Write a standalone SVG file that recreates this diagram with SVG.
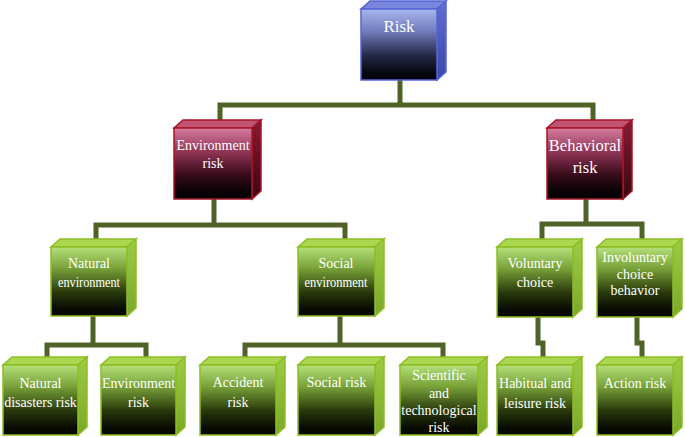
<svg xmlns="http://www.w3.org/2000/svg" width="685" height="437" viewBox="0 0 685 437">
<defs>
<linearGradient id="gBlue" x1="0" y1="0" x2="0" y2="1"><stop offset="0" stop-color="#a9b5ec"/><stop offset="0.3" stop-color="#7480c0"/><stop offset="0.65" stop-color="#262a48"/><stop offset="0.9" stop-color="#06070e"/></linearGradient>
<linearGradient id="gBlueS" x1="0" y1="0" x2="0" y2="1"><stop offset="0" stop-color="#5f6ed0"/><stop offset="1" stop-color="#3a46a8"/></linearGradient>
<linearGradient id="gRed" x1="0" y1="0" x2="0" y2="1"><stop offset="0" stop-color="#d47d9e"/><stop offset="0.3" stop-color="#9a3a5c"/><stop offset="0.65" stop-color="#3a0c1c"/><stop offset="0.9" stop-color="#080204"/></linearGradient>
<linearGradient id="gRedS" x1="0" y1="0" x2="0" y2="1"><stop offset="0" stop-color="#8a1a34"/><stop offset="1" stop-color="#3a0610"/></linearGradient>
<linearGradient id="gGreen" x1="0" y1="0" x2="0" y2="1"><stop offset="0" stop-color="#b4e07a"/><stop offset="0.3" stop-color="#7aa43a"/><stop offset="0.65" stop-color="#2a3a0c"/><stop offset="0.9" stop-color="#080a02"/></linearGradient>
<linearGradient id="gGreenS" x1="0" y1="0" x2="0" y2="1"><stop offset="0" stop-color="#9ccc44"/><stop offset="1" stop-color="#7aa82a"/></linearGradient>
</defs>
<style>
.con{fill:none;stroke:#4f6228;stroke-width:5;stroke-linejoin:miter}
.fb{fill:url(#gBlue);stroke:#5566d6;stroke-width:1.5}
.tb{fill:#7886dc;stroke:#5566d6;stroke-width:1.5}
.sb{fill:url(#gBlueS);stroke:#5566d6;stroke-width:1.5}
.fr{fill:url(#gRed);stroke:#a81428;stroke-width:1.5}
.tr{fill:#c05475;stroke:#a81428;stroke-width:1.5}
.sr{fill:url(#gRedS);stroke:#a81428;stroke-width:1.5}
.fg{fill:url(#gGreen);stroke:#8fbc24;stroke-width:1.5}
.tg{fill:#a9d850;stroke:#8fbc24;stroke-width:1.5}
.sg{fill:url(#gGreenS);stroke:#8fbc24;stroke-width:1.5}
text{font-family:"Liberation Serif","Times New Roman",serif;fill:#ffffff;text-anchor:middle;font-size:14px}
</style>
<g id="connectors">
<path class="con" d="M400 80 V105"/>
<path class="con" d="M220 121 V105 H593 V121"/>
<path class="con" d="M214 199 V225"/>
<path class="con" d="M96 240 V225 H345 V240"/>
<path class="con" d="M586 199 V224"/>
<path class="con" d="M542 240 V224 H642 V240"/>
<path class="con" d="M93 316 V345"/>
<path class="con" d="M47 358 V345 H146 V358"/>
<path class="con" d="M340 316 V345"/>
<path class="con" d="M245 358 V345 H443 V358"/>
<path class="con" d="M538 317 V343 H543 V358"/>
<path class="con" d="M637 317 V343 H642 V358"/>
</g>
<g id="risk">
<polygon class="tb" points="361,9 370,1 446,1 437,9"/>
<polygon class="sb" points="437,9 446,1 446,72 437,80"/>
<rect class="fb" x="361" y="9" width="76" height="71"/>
<text x="399" y="32" style="font-size:17px">Risk</text>
</g>
<g id="environment-risk">
<polygon class="tr" points="174,128 183,120 261,120 252,128"/>
<polygon class="sr" points="252,128 261,120 261,191 252,199"/>
<rect class="fr" x="174" y="128" width="78" height="71"/>
<text x="213" y="150">Environment</text>
<text x="213" y="168">risk</text>
</g>
<g id="behavioral-risk">
<polygon class="tr" points="547,128 556,120 632,120 623,128"/>
<polygon class="sr" points="623,128 632,120 632,191 623,199"/>
<rect class="fr" x="547" y="128" width="76" height="71"/>
<text x="585" y="151" style="font-size:16.5px">Behavioral</text>
<text x="585" y="173" style="font-size:16.5px">risk</text>
</g>
<g id="natural-environment">
<polygon class="tg" points="51,247 60,239 136,239 127,247"/>
<polygon class="sg" points="127,247 136,239 136,308 127,316"/>
<rect class="fg" x="51" y="247" width="76" height="69"/>
<text x="89" y="268">Natural</text>
<text x="89" y="287" textLength="62" lengthAdjust="spacingAndGlyphs">environment</text>
</g>
<g id="social-environment">
<polygon class="tg" points="298,247 307,239 384,239 375,247"/>
<polygon class="sg" points="375,247 384,239 384,308 375,316"/>
<rect class="fg" x="298" y="247" width="77" height="69"/>
<text x="336" y="268">Social</text>
<text x="336" y="287" textLength="63" lengthAdjust="spacingAndGlyphs">environment</text>
</g>
<g id="voluntary-choice">
<polygon class="tg" points="497,247 506,239 582,239 573,247"/>
<polygon class="sg" points="573,247 582,239 582,309 573,317"/>
<rect class="fg" x="497" y="247" width="76" height="70"/>
<text x="535" y="268">Voluntary</text>
<text x="535" y="287">choice</text>
</g>
<g id="involuntary-choice-behavior">
<polygon class="tg" points="597,247 606,239 682,239 673,247"/>
<polygon class="sg" points="673,247 682,239 682,309 673,317"/>
<rect class="fg" x="597" y="247" width="76" height="70"/>
<text x="635" y="262">Involuntary</text>
<text x="635" y="279">choice</text>
<text x="635" y="295">behavior</text>
</g>
<g id="natural-disasters-risk">
<polygon class="tg" points="3,365 12,357 87,357 78,365"/>
<polygon class="sg" points="78,365 87,357 87,427 78,435"/>
<rect class="fg" x="3" y="365" width="75" height="70"/>
<text x="40.5" y="388">Natural</text>
<text x="40.5" y="407">disasters risk</text>
</g>
<g id="environment-risk-2">
<polygon class="tg" points="101,365 110,357 185,357 176,365"/>
<polygon class="sg" points="176,365 185,357 185,427 176,435"/>
<rect class="fg" x="101" y="365" width="75" height="70"/>
<text x="138.5" y="388">Environment</text>
<text x="138.5" y="407">risk</text>
</g>
<g id="accident-risk">
<polygon class="tg" points="200,365 209,357 285,357 276,365"/>
<polygon class="sg" points="276,365 285,357 285,427 276,435"/>
<rect class="fg" x="200" y="365" width="76" height="70"/>
<text x="238" y="387">Accident</text>
<text x="238" y="407">risk</text>
</g>
<g id="social-risk">
<polygon class="tg" points="298,365 307,357 384,357 375,365"/>
<polygon class="sg" points="375,365 384,357 384,427 375,435"/>
<rect class="fg" x="298" y="365" width="77" height="70"/>
<text x="336.5" y="387">Social risk</text>
</g>
<g id="scientific-technological-risk">
<polygon class="tg" points="400,365 409,357 487,357 478,365"/>
<polygon class="sg" points="478,365 487,357 487,427 478,435"/>
<rect class="fg" x="400" y="365" width="78" height="70"/>
<text x="439" y="380">Scientific</text>
<text x="439" y="398">and</text>
<text x="439" y="415">technological</text>
<text x="439" y="432">risk</text>
</g>
<g id="habitual-leisure-risk">
<polygon class="tg" points="497,365 506,357 582,357 573,365"/>
<polygon class="sg" points="573,365 582,357 582,427 573,435"/>
<rect class="fg" x="497" y="365" width="76" height="70"/>
<text x="535" y="388">Habitual and</text>
<text x="535" y="408">leisure risk</text>
</g>
<g id="action-risk">
<polygon class="tg" points="597,365 606,357 682,357 673,365"/>
<polygon class="sg" points="673,365 682,357 682,427 673,435"/>
<rect class="fg" x="597" y="365" width="76" height="70"/>
<text x="635" y="388">Action risk</text>
</g>
</svg>
